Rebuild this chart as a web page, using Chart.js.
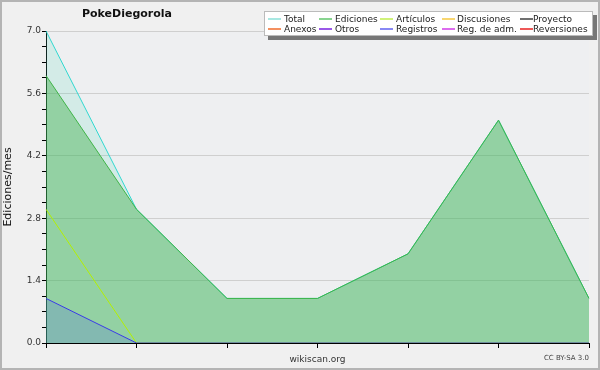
<!DOCTYPE html>
<html lang="es">
<head>
<meta charset="utf-8">
<title>PokeDiegorola</title>
<script src="https://cdn.jsdelivr.net/npm/chart.js@4/dist/chart.umd.min.js"></script>
<style>
    body { margin: 0; background: #f0f0f0; font-family: 'DejaVu Sans', sans-serif; }
    .wrap { position: relative; width: 600px; height: 370px; background: #f0f0f0; overflow: hidden; }
    .wrap canvas { position: absolute; left: 0; top: 0; }
    .frame { position: absolute; left: 0; top: 0; width: 600px; height: 370px; box-sizing: border-box; border: 2px solid #b4b4b4; pointer-events: none; }
    .title { position: absolute; left: 60px; width: 134px; top: 7px; text-align: center; font-weight: bold; font-size: 11px; color: #111; }
    .legend { position: absolute; left: 264px; top: 11px; width: 329px; height: 25px; background: #fff; border: 1px solid #bbb; box-sizing: border-box; box-shadow: 4px 4px 0 #777; }
    .legend span { position: absolute; font-size: 9px; color: #222; line-height: 10px; white-space: nowrap; }
    .legend .sw { position: absolute; display: block; width: 13px; height: 2px; }
    .credit { position: absolute; right: 11px; top: 354px; font-size: 7px; color: #444; }
</style>
</head>
<body>
<div class="wrap">
    <canvas id="chart" width="600" height="370"></canvas>
    <div class="title">PokeDiegorola</div>
    <div class="legend" id="legend"></div>
    <div class="credit">CC BY-SA 3.0</div>
    <div class="frame"></div>
</div>
<script>
// datos
const categories = ['', '', '', '', '', '', ''];
const total = [7, 3, 1, 1, 2, 5, 1];
const ediciones = [6, 3, 1, 1, 2, 5, 1];
const articulos = [3, 0, 0, 0, 0, 0, 0];
const registros = [1, 0, 0, 0, 0, 0, 0];
const yMax = 7;
const yStep = 0.35;

const legendNames = ['Total', 'Ediciones', 'Artículos', 'Discusiones', 'Proyecto',
                     'Anexos', 'Otros', 'Registros', 'Reg. de adm.', 'Reversiones'];
const legendColors = ['#a8e8e2', '#88d490', '#d0f27a', '#f8d670', '#707070',
                      '#f49060', '#9a58e8', '#8888f4', '#dc6cee', '#ee5858'];

document.addEventListener('DOMContentLoaded', function() {
    buildLegend();
    initChart();
});

// Leyenda fija arriba a la derecha
function buildLegend() {
    const box = document.getElementById('legend');
    const swatchX = [3, 54, 115, 177, 255];
    const textX = [19, 70, 131, 192, 268];
    legendNames.forEach((name, i) => {
        const col = i % 5;
        const row = Math.floor(i / 5);
        const line = document.createElement('div');
        line.className = 'sw';
        line.style.left = swatchX[col] + 'px';
        line.style.top = (6 + row * 10) + 'px';
        line.style.background = legendColors[i];
        box.appendChild(line);
        const label = document.createElement('span');
        label.textContent = name;
        label.style.left = textX[col] + 'px';
        label.style.top = (2 + row * 10) + 'px';
        box.appendChild(label);
    });
}

const plotBackground = {
    id: 'plotBackground',
    beforeDraw(chart) {
        const a = chart.chartArea;
        const ctx = chart.ctx;
        ctx.save();
        ctx.fillStyle = '#eeeff1';
        ctx.fillRect(a.left, a.top, a.right - a.left, a.bottom - a.top);
        ctx.restore();
    }
};

function initChart() {
    const ctx = document.getElementById('chart');
    const base = { pointRadius: 0, borderWidth: 1, tension: 0 };

    new Chart(ctx, {
        type: 'line',
        data: {
            labels: categories,
            datasets: [
                Object.assign({ label: 'Registros', data: registros, borderColor: '#3a3ae8',
                    backgroundColor: 'rgba(70,90,235,0.2)', fill: 'origin', order: 1 }, base),
                Object.assign({ label: 'Artículos', data: articulos, borderColor: '#b4f000',
                    fill: false, order: 2 }, base),
                Object.assign({ label: 'Ediciones', data: ediciones, borderColor: '#40b448',
                    backgroundColor: 'rgba(60,175,70,0.42)', fill: 'origin', order: 3 }, base),
                Object.assign({ label: 'Total', data: total, borderColor: '#30d8d0',
                    backgroundColor: 'rgba(90,215,190,0.18)', fill: 'origin', order: 4 }, base)
            ]
        },
        options: {
            responsive: false,
            animation: false,
            layout: { padding: { top: 31, right: 11, left: 0, bottom: 0 } },
            plugins: { legend: { display: false }, tooltip: { enabled: false } },
            scales: {
                x: {
                    offset: false,
                    grid: { drawOnChartArea: false, tickLength: 5, tickColor: '#000' },
                    border: { color: '#000', width: 1 },
                    ticks: { display: true, font: { size: 9 } },
                    title: { display: true, text: 'wikiscan.org', color: '#333',
                             font: { size: 9, family: "'DejaVu Sans', sans-serif" }, padding: { top: 0, bottom: 5 } },
                    afterFit: function(scale) { scale.height = 27; }
                },
                y: {
                    min: 0,
                    max: yMax,
                    ticks: {
                        stepSize: yStep,
                        autoSkip: false,
                        padding: 1,
                        color: '#333',
                        font: { size: 9, family: "'DejaVu Sans', sans-serif" },
                        callback: function(value, index) {
                            return index % 4 === 0 ? Number(value).toFixed(1) : '';
                        }
                    },
                    grid: {
                        tickLength: 4,
                        tickColor: '#000',
                        color: function(c) {
                            return c.index % 4 === 0 && c.index > 0 ? '#cfcfcf' : 'transparent';
                        }
                    },
                    border: { color: '#000', width: 1 },
                    title: { display: true, text: 'Ediciones/mes', color: '#111',
                             font: { size: 11, family: "'DejaVu Sans', sans-serif" }, padding: { top: 2, bottom: 0 } },
                    afterFit: function(scale) { scale.width = 46; }
                }
            }
        },
        plugins: [plotBackground]
    });
}
</script>
</body>
</html>
